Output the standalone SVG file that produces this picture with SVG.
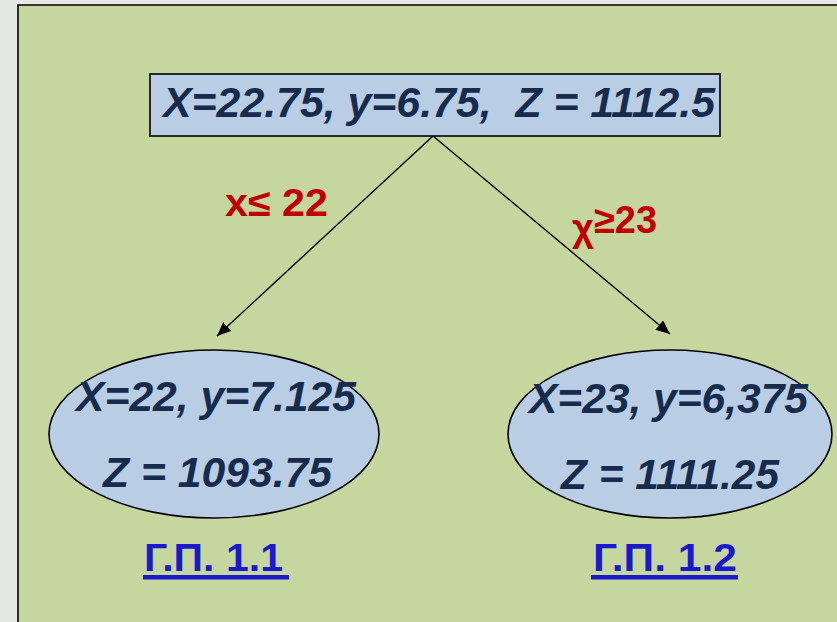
<svg xmlns="http://www.w3.org/2000/svg" width="837" height="622" viewBox="0 0 837 622">
  <defs>
    <marker id="arrow" viewBox="0 0 14 12" refX="14" refY="6" markerWidth="14" markerHeight="12" markerUnits="userSpaceOnUse" orient="auto">
      <path d="M0,0 L14,6 L0,12 Z" fill="#000"/>
    </marker>
    <style>
      .node { fill: #b9cde5; stroke: #000; stroke-width: 1.6; }
      .val { font-family: "Liberation Sans", Arial, sans-serif; font-weight: bold; font-style: italic; fill: #172b4d; white-space: pre; }
      .cond { font-family: "Liberation Sans", Arial, sans-serif; font-weight: bold; fill: #c00000; font-size: 38px; }
      .ref { font-family: "Liberation Sans", Arial, sans-serif; font-weight: bold; fill: #1a1acc; font-size: 38px; }
      .edge { stroke: #000; stroke-width: 1.4; fill: none; marker-end: url(#arrow); }
    </style>
  </defs>

  <!-- page background and panel -->
  <rect x="0" y="0" width="837" height="622" fill="#e5e8e3"/>
  <rect x="18" y="5" width="819" height="617" fill="#c5d79e"/>
  <path d="M18,622 L18,5 L837,5" fill="none" stroke="#000" stroke-width="1.6"/>

  <!-- connectors -->
  <g id="connectors">
    <line class="edge" x1="433" y1="136" x2="217" y2="336"/>
    <line class="edge" x1="433" y1="136" x2="670" y2="334"/>
    <text class="cond" x="225" y="216" textLength="103" lengthAdjust="spacingAndGlyphs">x≤ 22</text>
    <text class="cond" x="572" y="233"><tspan dy="8">χ</tspan><tspan dy="-8">≥23</tspan></text>
  </g>

  <!-- root node -->
  <g id="root">
    <rect class="node" x="150" y="74" width="570" height="62"/>
    <text class="val" x="163" y="117" font-size="42" textLength="552" lengthAdjust="spacingAndGlyphs" xml:space="preserve">X=22.75, y=6.75,  Z = 1112.5</text>
  </g>

  <!-- left child -->
  <g id="node-1-1">
    <ellipse class="node" cx="214" cy="434" rx="165" ry="84"/>
    <text class="val" x="76" y="411" font-size="42" textLength="280" lengthAdjust="spacingAndGlyphs">X=22, y=7.125</text>
    <text class="val" x="103" y="487" font-size="42" textLength="229" lengthAdjust="spacingAndGlyphs">Z = 1093.75</text>
    <text class="ref" x="144" y="571" textLength="139" lengthAdjust="spacingAndGlyphs">Г.П. 1.1</text>
    <rect x="143" y="575" width="146" height="4.5" fill="#1a1acc"/>
  </g>

  <!-- right child -->
  <g id="node-1-2">
    <ellipse class="node" cx="670" cy="434" rx="162" ry="84"/>
    <text class="val" x="529" y="413" font-size="42" textLength="279" lengthAdjust="spacingAndGlyphs">X=23, y=6,375</text>
    <text class="val" x="561" y="489" font-size="42" textLength="218" lengthAdjust="spacingAndGlyphs">Z = 1111.25</text>
    <text class="ref" x="593" y="571" textLength="144" lengthAdjust="spacingAndGlyphs">Г.П. 1.2</text>
    <rect x="591" y="575" width="147" height="4.5" fill="#1a1acc"/>
  </g>
</svg>
